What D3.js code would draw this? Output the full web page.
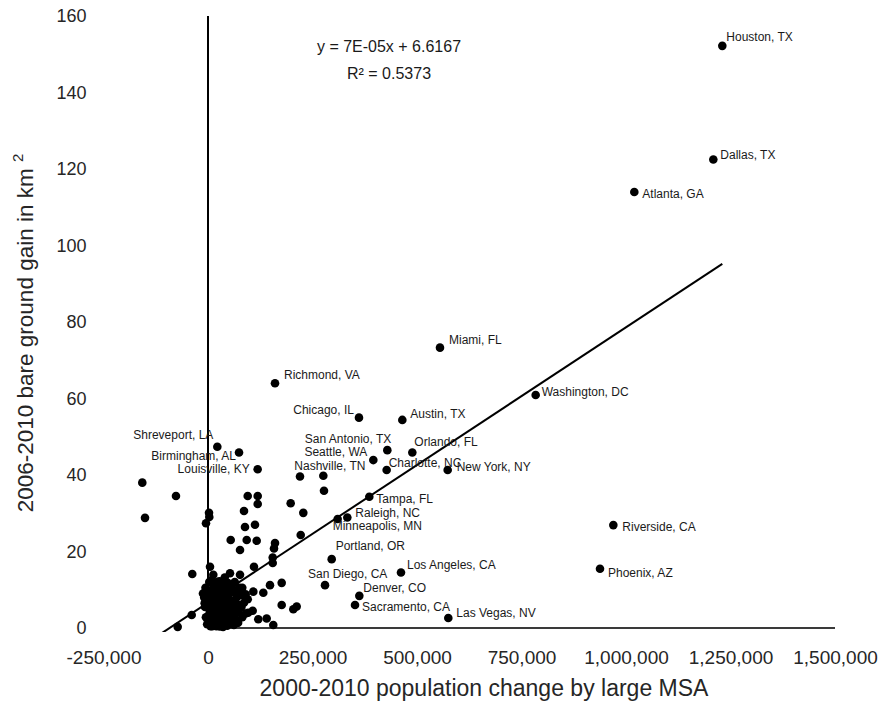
<!DOCTYPE html>
<html>
<head>
<meta charset="utf-8">
<script src="https://cdn.jsdelivr.net/npm/d3@7"></script>
<style>
  html, body { margin: 0; padding: 0; background: #fff; }
  svg { display: block; }
  text { font-family: "Liberation Sans", Arial, sans-serif; }
</style>
</head>
<body>
<svg id="chart" width="879" height="701"></svg>
<script>
// ---- Data: 2000-2010 population change vs 2006-2010 bare ground gain (km²) ----

// Named metropolitan areas
const cityNames = [
  "Houston, TX", "Dallas, TX", "Atlanta, GA", "Miami, FL", "Richmond, VA",
  "Chicago, IL", "Austin, TX", "Washington, DC", "Riverside, CA", "Phoenix, AZ",
  "Las Vegas, NV", "Los Angeles, CA", "Portland, OR", "San Diego, CA", "Denver, CO",
  "Sacramento, CA", "Minneapolis, MN", "Raleigh, NC", "Tampa, FL", "Charlotte, NC",
  "New York, NY", "Orlando, FL", "San Antonio, TX", "Seattle, WA", "Nashville, TN",
  "Shreveport, LA", "Birmingham, AL", "Louisville, KY"
];
const cityPopChange = [
  1230400, 1208900, 1019900, 555000, 160300,
  361200, 464900, 783900, 969700, 937800,
  574900, 461700, 295900, 279900, 362000,
  351700, 310200, 333300, 385900, 427400,
  573400, 488800, 429000, 395500, 275900,
  22300, 74200, 118800
];
const cityBareGain = [
  152.2, 122.5, 114.0, 73.3, 64.0,
  55.0, 54.4, 60.9, 26.9, 15.5,
  2.6, 14.5, 18.0, 11.2, 8.4,
  6.0, 28.5, 28.9, 34.3, 41.3,
  41.3, 45.9, 46.5, 43.9, 39.8,
  47.4, 45.9, 41.5
];

// Remaining large MSAs (unlabelled)
const otherPopChange = [
  -157200, -76600, -150700, 2400, 3100, -4800, 95000, 118900, 118900, 86100,
  228000, 197800, 88500, 112400, 54300, 92600, 116500, 221800, 160300, 157900,
  154800, 154800, -37600, 4800, 110000, 52600, 76600, 148300, 176300, 108400,
  132300, 176300, 204100, 212200, 106900, 120300, 140400, 156200, 70100, -39000,
  -72500, 220100, 277500, 76600, 12700, 40000,
  8000, 15000, 22000, 30000, 38000, 45000, 52000, 60000, 68000, 75000,
  85000, 95000, 2000, 10000, 18000, 25000, 32000, 40000, 48000, 55000,
  63000, 72000, 80000, -3000, 5000, 12000, 20000, 28000, 35000, 43000,
  50000, 58000, 66000, 90000, 0, 8000, 16000, 24000, 32000, 40000,
  48000, 56000, -2000, 6000, 20000, 36000, 62000, -12000, -8000, 28000,
  3000, 27000, 47000, 64000, -6000, 12000, 42000, 58000, 82000, 22000,
  35000, 52000, 76000, 90000, -9000, 5000, 28000, 44000, 70000, 14000,
  33000, 50000, 66000, 86000, -7000, 24000, 42000, 60000, 76000, 4000,
  17000, 30000, 52000, 72000, 96000, -5000, 12000, 30000, 46000, 64000,
  82000, 2000, 14000, 25000, 42000, 56000, 72000, 10000, 28000, 46000
];
const otherBareGain = [
  38.0, 34.5, 28.8, 30.1, 29.0, 27.4, 34.5, 34.5, 32.4, 30.6,
  30.1, 32.6, 26.4, 27.0, 23.0, 23.0, 22.8, 24.3, 22.2, 20.8,
  18.4, 17.0, 14.1, 16.0, 16.0, 14.3, 13.9, 11.2, 11.8, 9.5,
  9.2, 6.0, 4.9, 5.6, 4.5, 2.3, 2.5, 0.8, 1.4, 3.4,
  0.3, 39.6, 35.9, 20.4, 13.9, 13.2,
  12.5, 11.0, 12.0, 10.5, 11.5, 9.8, 11.0, 10.0, 9.0, 10.5,
  8.5, 7.5, 9.0, 8.5, 8.0, 7.5, 8.2, 7.0, 7.8, 6.5,
  7.2, 6.0, 5.5, 6.0, 5.5, 5.0, 5.8, 4.5, 5.2, 4.0,
  4.8, 3.5, 4.2, 3.8, 3.0, 2.5, 2.0, 3.0, 1.5, 2.2,
  1.0, 2.0, 1.0, 0.5, 0.5, 0.3, 0.8, 9.0, 6.5, 0.6,
  12.0, 12.2, 11.8, 12.0, 10.5, 10.4, 10.6, 10.3, 10.5, 9.1,
  8.9, 9.0, 9.2, 8.8, 8.0, 8.1, 7.9, 8.0, 8.2, 6.8,
  6.7, 6.9, 6.8, 6.6, 5.5, 5.4, 5.6, 5.5, 5.3, 4.0,
  4.1, 3.9, 4.0, 4.1, 4.0, 2.8, 2.7, 2.9, 2.8, 2.7,
  2.8, 1.5, 1.6, 1.4, 1.5, 1.6, 1.4, 0.5, 0.4, 0.6
];

// Linear trend line (least squares) and fit quality
const trendSlope = 7.2e-5;
const trendIntercept = 6.6167;
const trendR2 = 0.5373;

// Axis ticks
const xTicks = [-250000, 0, 250000, 500000, 750000, 1000000, 1250000, 1500000];
const yTicks = [0, 20, 40, 60, 80, 100, 120, 140, 160];

// ---- Label placement (offset from the dot, in px) ----
const labelPlacement = {
  "Houston, TX":     { dx: 4,   dy: -9,   anchor: "start" },
  "Dallas, TX":      { dx: 7,   dy: -5,   anchor: "start" },
  "Atlanta, GA":     { dx: 8,   dy: 2,    anchor: "start" },
  "Miami, FL":       { dx: 9,   dy: -8,   anchor: "start" },
  "Richmond, VA":    { dx: 9,   dy: -8,   anchor: "start" },
  "Chicago, IL":     { dx: -5,  dy: -8,   anchor: "end" },
  "Austin, TX":      { dx: 8,   dy: -6,   anchor: "start" },
  "Washington, DC":  { dx: 6,   dy: -3,   anchor: "start" },
  "Riverside, CA":   { dx: 9,   dy: 2,    anchor: "start" },
  "Phoenix, AZ":     { dx: 8,   dy: 4,    anchor: "start" },
  "Las Vegas, NV":   { dx: 8,   dy: -5,   anchor: "start" },
  "Los Angeles, CA": { dx: 6,   dy: -8,   anchor: "start" },
  "Portland, OR":    { dx: 4,   dy: -13,  anchor: "start" },
  "San Diego, CA":   { dx: -17, dy: -11,  anchor: "start" },
  "Denver, CO":      { dx: 4,   dy: -8,   anchor: "start" },
  "Sacramento, CA":  { dx: 7,   dy: 2,    anchor: "start" },
  "Minneapolis, MN": { dx: -5,  dy: 7,    anchor: "start" },
  "Raleigh, NC":     { dx: 8,   dy: -5,   anchor: "start" },
  "Tampa, FL":       { dx: 7,   dy: 2,    anchor: "start" },
  "Charlotte, NC":   { dx: 2,   dy: -7,   anchor: "start" },
  "New York, NY":    { dx: 9,   dy: -3,   anchor: "start" },
  "Orlando, FL":     { dx: 2,   dy: -11,  anchor: "start" },
  "San Antonio, TX": { dx: 4,   dy: -11,  anchor: "end" },
  "Seattle, WA":     { dx: -6,  dy: -8.5, anchor: "end" },
  "Nashville, TN":   { dx: -29, dy: -10,  anchor: "start" },
  "Shreveport, LA":  { dx: -4,  dy: -12,  anchor: "end" },
  "Birmingham, AL":  { dx: -3,  dy: 3,    anchor: "end" },
  "Louisville, KY":  { dx: -8,  dy: 0,    anchor: "end" }
};

// ---- Scales ----
const svg = d3.select("#chart");
const x = d3.scaleLinear().domain([-250000, 1500000]).range([103.5, 835]);
const y = d3.scaleLinear().domain([0, 160]).range([628, 16]);

const fmt = d3.formatLocale({ decimal: ".", thousands: ",", grouping: [3], currency: ["$", ""], minus: "-" }).format(",");

// ---- Axes (labels only; axis lines drawn separately) ----
const xAxis = d3.axisBottom(x).tickValues(xTicks).tickSize(0).tickPadding(23).tickFormat(fmt);
const gx = svg.append("g").attr("transform", `translate(0,${y(0)})`).call(xAxis);
gx.select(".domain").remove();
gx.selectAll("text").attr("font-size", 19).attr("fill", "#262626")
  .style("font-family", "'Liberation Sans', Arial, sans-serif");

const yAxis = d3.axisLeft(y).tickValues(yTicks).tickSize(0).tickPadding(17).tickFormat(d3.format("d"));
const gy = svg.append("g").attr("transform", `translate(${x(-250000)},0)`).call(yAxis);
gy.select(".domain").remove();
gy.selectAll("text").attr("font-size", 18).attr("fill", "#262626")
  .style("font-family", "'Liberation Sans', Arial, sans-serif");

// Horizontal axis line (y = 0) and vertical axis line (x = 0)
svg.append("line")
  .attr("x1", x(0)).attr("x2", x(1500000))
  .attr("y1", y(0)).attr("y2", y(0))
  .attr("stroke", "#3a3a3a").attr("stroke-width", 2);
svg.append("line")
  .attr("x1", x(0)).attr("x2", x(0))
  .attr("y1", y(0)).attr("y2", y(160))
  .attr("stroke", "#000").attr("stroke-width", 2);

// ---- Trend line ----
const allX = cityPopChange.concat(otherPopChange);
const xMin = d3.min(allX), xMax = d3.max(allX);
svg.append("clipPath").attr("id", "plotClip")
  .append("rect")
  .attr("x", x(-250000)).attr("y", y(160))
  .attr("width", x(1500000) - x(-250000)).attr("height", y(0) - y(160) + 4);
svg.append("line")
  .attr("clip-path", "url(#plotClip)")
  .attr("x1", x(xMin)).attr("y1", y(trendSlope * xMin + trendIntercept))
  .attr("x2", x(xMax)).attr("y2", y(trendSlope * xMax + trendIntercept))
  .attr("stroke", "#000").attr("stroke-width", 2);

// ---- Points ----
const others = otherPopChange.map((v, i) => ({ x: v, y: otherBareGain[i] }));
const cities = cityNames.map((n, i) => ({ name: n, x: cityPopChange[i], y: cityBareGain[i] }));

svg.append("g").selectAll("circle")
  .data(others.concat(cities))
  .join("circle")
  .attr("cx", d => x(d.x)).attr("cy", d => y(d.y))
  .attr("r", 4.3).attr("fill", "#000");

// ---- City labels ----
svg.append("g").selectAll("text")
  .data(cities)
  .join("text")
  .attr("x", d => x(d.x) + labelPlacement[d.name].dx)
  .attr("y", d => y(d.y) + labelPlacement[d.name].dy)
  .attr("dy", "0.35em")
  .attr("text-anchor", d => labelPlacement[d.name].anchor)
  .attr("font-size", 12)
  .attr("fill", "#1a1a1a")
  .text(d => d.name);

// ---- Trend equation ----
const slopeText = trendSlope.toExponential(0).replace("e", "E").replace(/E([+-])(\d)$/, "E$10$2").replace("E+", "E");
svg.append("text")
  .attr("x", 389).attr("y", 52)
  .attr("text-anchor", "middle").attr("font-size", 16).attr("fill", "#1a1a1a")
  .text(`y = ${slopeText}x + ${trendIntercept}`);
svg.append("text")
  .attr("x", 389).attr("y", 79)
  .attr("text-anchor", "middle").attr("font-size", 16).attr("fill", "#1a1a1a")
  .text(`R² = ${trendR2}`);

// ---- Axis titles ----
svg.append("text")
  .attr("x", 484).attr("y", 696)
  .attr("text-anchor", "middle").attr("font-size", 23).attr("fill", "#262626")
  .text("2000-2010 population change by large MSA");

const yTitle = svg.append("text")
  .attr("transform", "translate(33,333) rotate(-90)")
  .attr("text-anchor", "middle").attr("font-size", 22.5).attr("fill", "#262626");
yTitle.append("tspan").text("2006-2010 bare ground gain in km ");
yTitle.append("tspan").attr("font-size", 15).attr("dy", -10).text("2");
</script>
</body>
</html>
